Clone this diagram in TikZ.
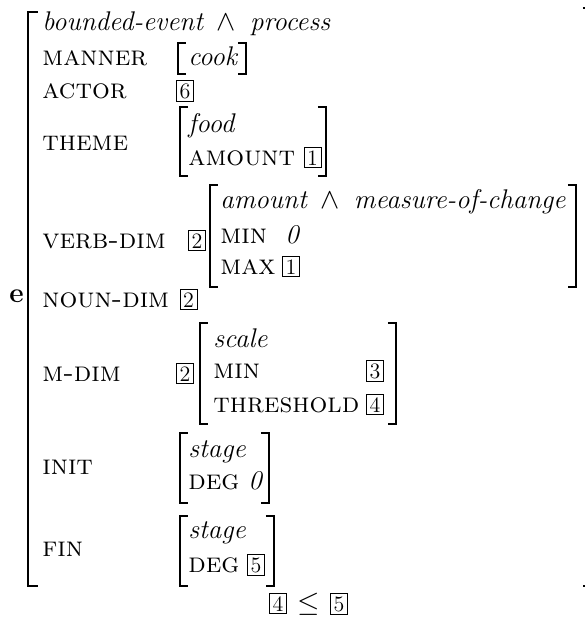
\documentclass[tikz,border=0pt]{standalone}
\usepackage{amsmath, amssymb}
\usetikzlibrary{positioning}

\begin{document}
\begin{tikzpicture}[x=0.5pt, y=-0.5pt,
    txt/.style={anchor=base west, inner sep=0pt, font=\fontsize{13.5}{16}\selectfont},
    feat/.style={txt, font=\fontsize{14}{16}\selectfont\scshape},
    typ/.style={txt, font=\fontsize{13.5}{16}\selectfont\itshape},
    tagbox/.style={draw, line width=0.4pt, anchor=base west, inner sep=1.3pt,
      minimum width=8.5pt, font=\fontsize{11}{13}\selectfont},
    brk/.style={line width=0.85pt},
    outer/.style={line width=1.3pt},
  ]
  \useasboundingbox (0,0) rectangle (585,618);

  % outer matrix
  \draw[outer] (38,12) -- (28,12) -- (28,586) -- (38,586);
  \draw[outer] (583,8) -- (588,8) -- (588,586) -- (583,586);
  \node[txt, font=\fontsize{14}{16}\selectfont\bfseries] (e) at (9,302) {e};

  \node[typ] (evtype) at (42,30) {bounded-event \,$\wedge$\, process};

  \node[feat] (manner) at (42,65) {manner};
  \node[typ] (cook) at (188,65) {cook};

  \node[feat] (actor) at (42,98) {actor};
  \node[tagbox] (t6) at (176,98) {6};

  \node[feat] (theme) at (42,150) {theme};
  \node[typ] (food) at (188,132) {food};
  \node[feat] (amount) at (188,165) {amount};
  \node[tagbox, right=4pt of amount.base east, anchor=base west] (t1a) {1};

  \node[feat] (verbdim) at (42,248) {verb-dim};
  \node[tagbox] (t2a) at (188,248) {2};
  \node[typ] (amtype) at (220,208) {amount \,$\wedge$\, measure-of-change};
  \node[feat] (vmin) at (220,243) {min};
  \node[typ] (vminval) at (285,243) {0};
  \node[feat] (vmax) at (220,274) {max};
  \node[tagbox, right=3pt of vmax.base east, anchor=base west] (t1b) {1};

  \node[feat] (noundim) at (42,307) {noun-dim};
  \node[tagbox, right=5pt of noundim.base east, anchor=base west] (t2b) {2};

  \node[feat] (mdim) at (42,381) {m-dim};
  \node[tagbox] (t2c) at (176,381) {2};
  \node[typ] (scale) at (213,347) {scale};
  \node[feat] (smin) at (213,378) {min};
  \node[tagbox] (t3) at (366,378) {3};
  \node[feat] (thresh) at (213,412) {threshold};
  \node[tagbox] (t4a) at (366,412) {4};

  \node[feat] (init) at (42,474) {init};
  \node[typ] (stagei) at (188,457) {stage};
  \node[feat] (degi) at (188,489) {deg};
  \node[typ] (degival) at (248,489) {0};

  \node[feat] (fin) at (42,556) {fin};
  \node[typ] (stagef) at (188,538) {stage};
  \node[feat] (degf) at (188,572) {deg};
  \node[tagbox] (t5a) at (247,572) {5};

  % inner brackets: left/right/top/bottom
  \foreach \l/\r/\t/\b in {178/246/43/74, 180/326/107/176, 210/576/185/287,
                           200/396/323/424, 180/269/433/503, 180/274/516/586} {
    \draw[brk] (\l+8,\t) -- (\l,\t) -- (\l,\b) -- (\l+8,\b);
    \draw[brk] (\r-8,\t) -- (\r,\t) -- (\r,\b) -- (\r-8,\b);
  }

  % constraint
  \node[tagbox] (t4b) at (269,611) {4};
  \node[txt, font=\fontsize{15}{17}\selectfont, right=5pt of t4b.base east, anchor=base west] (leq) {$\leq$};
  \node[tagbox, right=5pt of leq.base east, anchor=base west] (t5b) {5};
\end{tikzpicture}
\end{document}
